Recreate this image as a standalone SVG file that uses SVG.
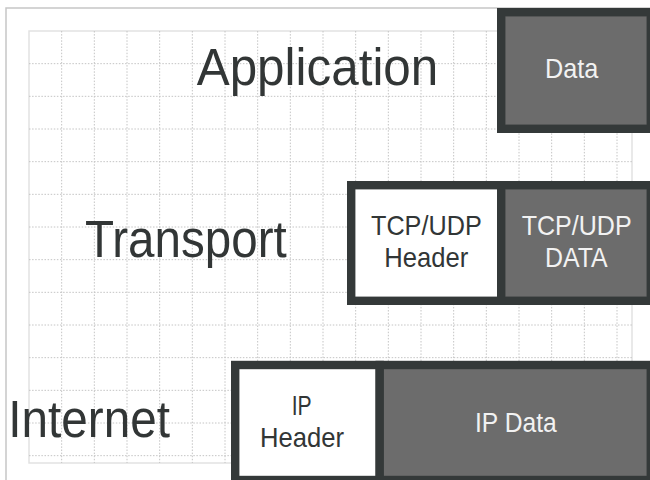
<svg xmlns="http://www.w3.org/2000/svg" width="650" height="480" viewBox="0 0 650 480">
<style>
.frame{fill:#fff;stroke:#c6c6c6;stroke-width:1.5}
.gridbg{fill:#fff;stroke:#e2e2e2;stroke-width:1.5}
.grid{fill:none;stroke:#c4c4c4;stroke-width:1;stroke-dasharray:1.5 1.6}
.box{stroke:#343939;stroke-width:8.4}
.hdr{fill:#ffffff}
.dat{fill:#6c6c6c}
.lbl{font-family:"Liberation Sans",Arial,sans-serif;font-size:51px;fill:#323636}
.t{font-family:"Liberation Sans",Arial,sans-serif;font-size:27.5px}
.td{fill:#323636}
.tw{fill:#f2f2f2}
</style>
<rect width="650" height="480" fill="#fff"/>
<path d="M6,480 V8 H650" fill="none" stroke="#c6c6c6" stroke-width="1.5"/>
<rect class="gridbg" x="29" y="31" width="603" height="432"/>
<path class="grid" d="M61.67,31V463M94.33,31V463M127,31V463M159.67,31V463M192.33,31V463M225,31V463M257.67,31V463M290.33,31V463M323,31V463M355.67,31V463M388.33,31V463M421,31V463M453.67,31V463M486.33,31V463M519,31V463M551.67,31V463M584.33,31V463M617,31V463M29,63.67H632M29,96.33H632M29,129H632M29,161.67H632M29,194.33H632M29,227H632M29,259.67H632M29,292.33H632M29,325H632M29,357.67H632M29,390.33H632M29,423H632M29,455.67H632"/>
<g id="labels">
<text class="lbl" x="196.7" y="85" textLength="241.6" lengthAdjust="spacingAndGlyphs">Application</text>
<text class="lbl" x="85" y="256.7" textLength="201.7" lengthAdjust="spacingAndGlyphs">Transport</text>
<text class="lbl" x="8.3" y="436.7" textLength="161.7" lengthAdjust="spacingAndGlyphs">Internet</text>
</g>
<g id="app-data">
<rect class="box dat" x="501.2" y="12.2" width="149.6" height="116.6"/>
<text class="t tw" x="545" y="78.3" textLength="53.3" lengthAdjust="spacingAndGlyphs">Data</text>
</g>
<g id="tcp-header">
<rect class="box hdr" x="351.2" y="185.2" width="150" height="115.6"/>
<text class="t td" x="371" y="235" textLength="110.7" lengthAdjust="spacingAndGlyphs">TCP/UDP</text>
<text class="t td" x="384.3" y="266.7" textLength="84" lengthAdjust="spacingAndGlyphs">Header</text>
</g>
<g id="tcp-data">
<rect class="box dat" x="501.2" y="185.2" width="149.6" height="115.6"/>
<text class="t tw" x="521.7" y="235" textLength="110" lengthAdjust="spacingAndGlyphs">TCP/UDP</text>
<text class="t tw" x="545" y="266.7" textLength="62.7" lengthAdjust="spacingAndGlyphs">DATA</text>
</g>
<g id="ip-header">
<rect class="box hdr" x="235.2" y="365" width="144.5" height="115"/>
<text class="t td" x="291.7" y="415" textLength="20" lengthAdjust="spacingAndGlyphs">IP</text>
<text class="t td" x="260" y="446.7" textLength="84" lengthAdjust="spacingAndGlyphs">Header</text>
</g>
<g id="ip-data">
<rect class="box dat" x="379.7" y="365" width="271.1" height="115"/>
<text class="t tw" x="475" y="431.7" textLength="81.7" lengthAdjust="spacingAndGlyphs">IP Data</text>
</g>
<g id="connectors"></g>
</svg>
